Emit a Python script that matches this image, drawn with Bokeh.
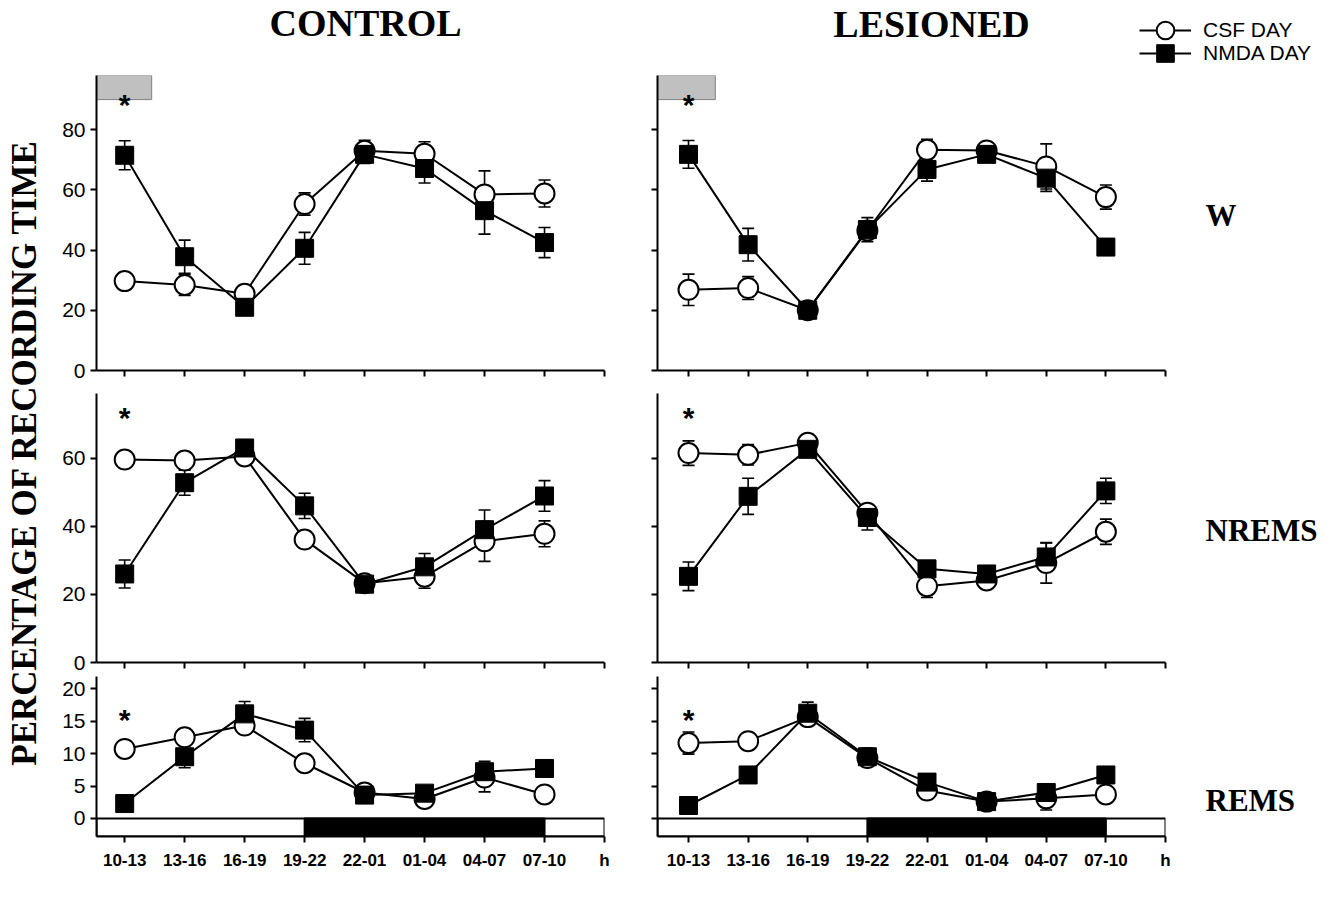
import numpy as np
from bokeh.plotting import figure
from bokeh.layouts import row, column
from bokeh.models import (FixedTicker, Label, Legend, LegendItem, Range1d,
                          CustomLabelingPolicy)
from bokeh.embed import file_html
from bokeh.resources import INLINE
from bokeh.core.properties import value

# ---------------- data ----------------
periods = ["10-13", "13-16", "16-19", "19-22", "22-01", "01-04", "04-07", "07-10"]
end_label = "h"

# Wakefulness (W)
w_ctrl_csf = [29.7, 28.4, 25.5, 55.3, 73.0, 72.0, 58.5, 58.8]
w_ctrl_csf_err = [1.5, 3.5, 1.5, 3.7, 3.5, 4.0, 7.8, 4.5]
w_ctrl_nmda = [71.5, 37.8, 21.0, 40.6, 71.8, 67.1, 53.1, 42.5]
w_ctrl_nmda_err = [4.8, 5.5, 1.5, 5.3, 3.0, 4.8, 7.8, 5.0]

w_les_csf = [26.8, 27.4, 20.0, 46.5, 73.3, 73.1, 67.8, 57.6]
w_les_csf_err = [5.2, 3.8, 1.5, 2.5, 3.5, 2.5, 7.5, 4.0]
w_les_nmda = [71.8, 41.8, 20.0, 46.8, 66.8, 71.8, 63.9, 41.0]
w_les_nmda_err = [4.6, 5.4, 1.5, 4.0, 3.9, 2.0, 4.4, 1.0]

# NREMS
n_ctrl_csf = [59.6, 59.3, 60.5, 36.1, 23.3, 25.2, 35.6, 37.8]
n_ctrl_csf_err = [1.5, 1.5, 1.5, 1.5, 1.5, 3.4, 5.9, 3.8]
n_ctrl_nmda = [26.0, 52.8, 63.0, 46.0, 23.0, 28.1, 39.0, 48.9]
n_ctrl_nmda_err = [4.1, 3.7, 1.5, 3.7, 2.0, 3.9, 5.8, 4.5]

n_les_csf = [61.5, 61.0, 64.5, 44.0, 22.4, 24.1, 29.2, 38.4]
n_les_csf_err = [3.6, 3.0, 1.5, 1.5, 3.3, 2.0, 5.9, 3.7]
n_les_nmda = [25.3, 48.8, 62.6, 42.6, 27.5, 26.0, 31.0, 50.4]
n_les_nmda_err = [4.2, 5.3, 1.5, 3.7, 2.0, 2.0, 4.2, 3.7]

# REMS
r_ctrl_csf = [10.7, 12.5, 14.3, 8.5, 4.0, 3.0, 6.3, 3.7]
r_ctrl_csf_err = [0.6, 0.6, 0.6, 0.6, 0.6, 0.6, 2.2, 0.6]
r_ctrl_nmda = [2.3, 9.5, 16.1, 13.6, 3.6, 3.9, 7.2, 7.7]
r_ctrl_nmda_err = [0.5, 1.7, 1.9, 1.8, 0.6, 0.6, 1.6, 0.5]

r_les_csf = [11.6, 11.9, 15.6, 9.3, 4.3, 2.6, 3.1, 3.7]
r_les_csf_err = [1.7, 0.6, 0.6, 0.6, 0.6, 0.6, 1.8, 0.6]
r_les_nmda = [2.0, 6.7, 16.2, 9.5, 5.6, 2.6, 4.0, 6.7]
r_les_nmda_err = [0.4, 0.6, 1.7, 1.3, 0.6, 0.6, 0.6, 0.6]

# significance marks (first interval), injection period, dark period
sig_period = [0]
sig_level = {"W": [88.5], "NREMS": [72], "REMS": [15.3]}
injection_end = [0.45]
injection_band = [90, 98]
dark_start = [3]
dark_end = [7]
light_bar_depth = -2.77

SANS = "Liberation Sans"
SERIF = "Liberation Serif"
X_END = 8


def no_labels():
    return CustomLabelingPolicy(code="return []")


def panel(csf, csf_err, nmda, nmda_err, *, x_start, y_range, yticks, ylabels, xlabels,
          width, height, bl, br, bt, bb, stage):
    p = figure(width=width, height=height, x_range=Range1d(x_start, X_END),
               y_range=Range1d(*y_range), output_backend="svg", toolbar_location=None,
               min_border_left=bl, min_border_right=br, min_border_top=bt,
               min_border_bottom=bb)
    p.outline_line_color = None
    p.grid.visible = False

    xs = list(range(len(periods)))

    # axes
    p.xaxis.ticker = FixedTicker(ticks=list(range(len(periods) + 1)))
    p.xaxis.minor_tick_line_color = None
    p.xaxis.major_tick_in = 0
    p.xaxis.major_tick_out = 6
    p.xaxis.axis_line_width = 2
    p.xaxis.major_tick_line_width = 2
    if xlabels:
        p.xaxis.major_label_overrides = {i: lab for i, lab in enumerate(periods + [end_label])}
        p.xaxis.major_label_text_font = SANS
        p.xaxis.major_label_text_font_style = "bold"
        p.xaxis.major_label_text_font_size = "17px"
        p.xaxis.major_label_standoff = 8
        p.xaxis.major_label_text_color = "black"
    else:
        p.xaxis.major_label_policy = no_labels()
        p.xaxis.major_label_text_font_size = "4px"
        p.xaxis.major_label_standoff = 0

    p.yaxis.ticker = FixedTicker(ticks=yticks)
    p.yaxis.minor_tick_line_color = None
    p.yaxis.major_tick_in = 0
    p.yaxis.major_tick_out = 6
    p.yaxis.axis_line_width = 2
    p.yaxis.major_tick_line_width = 2
    if ylabels:
        p.yaxis.major_label_text_font = SANS
        p.yaxis.major_label_text_font_size = "21px"
        p.yaxis.major_label_standoff = 5
        p.yaxis.major_label_text_color = "black"
    else:
        p.yaxis.major_label_policy = no_labels()
        p.yaxis.major_label_text_font_size = "4px"
        p.yaxis.major_label_standoff = 0

    if stage == "W":
        p.quad(left=[x_start], right=injection_end, bottom=[injection_band[0]],
               top=[injection_band[1]], fill_color="#c0c0c0", line_color="#808080",
               line_width=1)
    if stage == "REMS":
        p.quad(left=[x_start], right=[X_END], bottom=[light_bar_depth], top=[0],
               fill_color="white", line_color="black", line_width=2)
        p.quad(left=dark_start, right=dark_end, bottom=[light_bar_depth], top=[0],
               fill_color="black", line_color="black", line_width=2)

    p.line(xs, csf, line_color="black", line_width=2)
    p.line(xs, nmda, line_color="black", line_width=2)

    for vals, errs in ((csf, csf_err), (nmda, nmda_err)):
        lo = [v - e for v, e in zip(vals, errs)]
        hi = [v + e for v, e in zip(vals, errs)]
        p.segment(x0=xs, y0=lo, x1=xs, y1=hi, line_color="black", line_width=1.6)
        p.scatter(xs, hi, marker="dash", size=12, line_color="black", line_width=1.6)
        p.scatter(xs, lo, marker="dash", size=12, line_color="black", line_width=1.6)

    p.scatter(xs, csf, marker="circle", size=20, fill_color="white",
              line_color="black", line_width=2)
    p.scatter(xs, nmda, marker="square", size=18, fill_color="black",
              line_color="black", line_width=1)

    p.text(x=sig_period, y=sig_level[stage], text=["*"], text_font=value(SANS),
           text_font_style="bold", text_font_size="30px", text_align="center",
           text_baseline="middle", text_color="black")
    return p


def blank(width, height):
    f = figure(width=width, height=height, x_range=Range1d(0, width),
               y_range=Range1d(0, height), output_backend="svg",
               toolbar_location=None, min_border=0)
    f.axis.visible = False
    f.grid.visible = False
    f.outline_line_color = None
    return f


# ---------------- header: titles + legend ----------------
HEADER_H = 75
header = blank(1327, HEADER_H)
for txt, cx, cy in (("CONTROL", 365, 53), ("LESIONED", 931, 52)):
    header.add_layout(Label(x=cx, y=cy, text=txt, text_font=SERIF, text_font_style="bold",
                            text_font_size="38px", text_align="center",
                            text_baseline="middle", text_color="black"))

# legend proxies (kept outside the visible range; only their styles are used)
proxy = [-1000]
leg_csf = [header.line(x=proxy + proxy, y=proxy + proxy, line_color="black", line_width=2),
           header.scatter(x=proxy, y=proxy, marker="circle", fill_color="white",
                          line_color="black", line_width=2)]
leg_nmda = [header.line(x=proxy + proxy, y=proxy + proxy, line_color="black", line_width=2),
            header.scatter(x=proxy, y=proxy, marker="square", fill_color="black",
                           line_color="black", line_width=1)]
# location = (left, bottom) of each one-item legend, measured from the frame's bottom-left
for item_label, rends, loc in (("CSF DAY", leg_csf, (1139, 23)),
                               ("NMDA DAY", leg_nmda, (1139, 0))):
    header.add_layout(Legend(items=[LegendItem(label=item_label, renderers=rends)],
                             location=loc, glyph_width=52, glyph_height=44,
                             label_standoff=12, padding=0, margin=0, spacing=0,
                             border_line_color=None, background_fill_alpha=0,
                             label_text_font=SANS, label_text_font_size="21px",
                             label_text_color="black"))

# ---------------- panels ----------------
CW, LW = 571, 551
common_c = dict(x_start=-0.47, bl=43, br=20)
common_l = dict(x_start=-0.52, bl=33, br=10)

row_specs = [
    ("W", (0, 98), [0, 20, 40, 60, 80], 309, 0, 14, False,
     (w_ctrl_csf, w_ctrl_csf_err, w_ctrl_nmda, w_ctrl_nmda_err),
     (w_les_csf, w_les_csf_err, w_les_nmda, w_les_nmda_err)),
    ("NREMS", (0, 79), [0, 20, 40, 60], 290, 9, 12, False,
     (n_ctrl_csf, n_ctrl_csf_err, n_ctrl_nmda, n_ctrl_nmda_err),
     (n_les_csf, n_les_csf_err, n_les_nmda, n_les_nmda_err)),
    ("REMS", (light_bar_depth, 21.85), [0, 5, 10, 15, 20], 216, 2, 54, True,
     (r_ctrl_csf, r_ctrl_csf_err, r_ctrl_nmda, r_ctrl_nmda_err),
     (r_les_csf, r_les_csf_err, r_les_nmda, r_les_nmda_err)),
]

rows = []
for stage, yr, yt, h, bt, bb, xl, cdat, ldat in row_specs:
    pc = panel(*cdat, y_range=yr, yticks=yt, ylabels=True, xlabels=xl,
               width=CW, height=h, bt=bt, bb=bb, stage=stage, **common_c)
    pl = panel(*ldat, y_range=yr, yticks=yt, ylabels=False, xlabels=xl,
               width=LW, height=h, bt=bt, bb=bb, stage=stage, **common_l)
    rows.append(row(pc, pl, spacing=0))

BODY_H = 309 + 290 + 216

# ---------------- stage labels (right) ----------------
stages = blank(152, BODY_H)
for txt, ly in (("W", 675), ("NREMS", 360), ("REMS", 90)):
    stages.add_layout(Label(x=30, y=ly, text=txt, text_font=SERIF, text_font_style="bold",
                            text_font_size="31px", text_align="left",
                            text_baseline="middle", text_color="black"))

# ---------------- y label (left) ----------------
yl = blank(53, BODY_H)
yl.add_layout(Label(x=24, y=438, text="PERCENTAGE OF RECORDING TIME", angle=np.pi / 2,
                    text_align="center", text_baseline="middle", text_font=SERIF,
                    text_font_style="bold", text_font_size="35px", text_color="black"))

layout = column(header, row(yl, column(*rows, spacing=0), stages, spacing=0), spacing=0)

open("out.html", "w").write(file_html(layout, INLINE))
